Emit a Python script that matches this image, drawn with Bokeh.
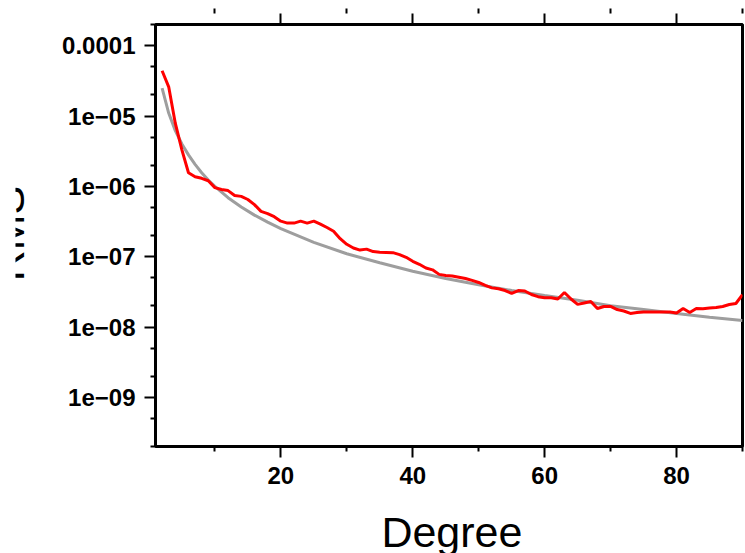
import math
from bokeh.plotting import figure
from bokeh.layouts import row, column
from bokeh.models import Range1d, FixedTicker, LinearAxis, Label
from bokeh.embed import file_html
from bokeh.resources import INLINE

# ---------------- data ----------------
red_degree = list(range(2, 91))
red_rms = [
    4.4e-5, 2.6e-5, 7.9e-6, 3.3e-6, 1.56e-6, 1.37e-6, 1.30e-6, 1.20e-6, 9.6e-7,          # 2-10
    9.0e-7, 8.7e-7, 7.4e-7, 7.2e-7, 6.5e-7, 5.5e-7, 4.4e-7, 4.1e-7, 3.7e-7, 3.2e-7,     # 11-20
    3.0e-7, 3.0e-7, 3.2e-7, 3.0e-7, 3.2e-7, 2.9e-7, 2.6e-7, 2.3e-7, 1.8e-7, 1.5e-7,     # 21-30
    1.33e-7, 1.24e-7, 1.28e-7, 1.18e-7, 1.16e-7, 1.15e-7, 1.14e-7, 1.07e-7, 9.8e-8, 8.6e-8,  # 31-40
    7.8e-8, 6.9e-8, 6.5e-8, 5.6e-8, 5.4e-8, 5.3e-8, 5.1e-8, 4.9e-8, 4.6e-8, 4.3e-8,     # 41-50
    3.9e-8, 3.6e-8, 3.5e-8, 3.3e-8, 3.0e-8, 3.3e-8, 3.25e-8, 2.9e-8, 2.7e-8, 2.6e-8,    # 51-60
    2.6e-8, 2.5e-8, 3.1e-8, 2.5e-8, 2.1e-8, 2.2e-8, 2.3e-8, 1.83e-8, 1.96e-8, 1.96e-8,  # 61-70
    1.77e-8, 1.69e-8, 1.56e-8, 1.61e-8, 1.63e-8, 1.63e-8, 1.63e-8, 1.63e-8, 1.63e-8, 1.58e-8,  # 71-80
    1.83e-8, 1.61e-8, 1.83e-8, 1.82e-8, 1.86e-8, 1.89e-8, 1.96e-8, 2.09e-8, 2.16e-8, 2.89e-8,  # 81-90
]

gray_degree = [2, 3, 4, 5, 6, 7, 8, 9, 10, 12, 14, 16, 18, 20, 25, 30, 35, 40, 45,
               50, 55, 60, 65, 70, 75, 80, 85, 90]
gray_rms = [2.5e-5, 1.1e-5, 6.2e-6, 4.0e-6, 2.8e-6, 2.05e-6, 1.56e-6, 1.23e-6, 1.0e-6,
            6.9e-7, 5.1e-7, 3.9e-7, 3.1e-7, 2.5e-7, 1.6e-7, 1.1e-7, 8.2e-8, 6.2e-8,
            4.9e-8, 4.0e-8, 3.3e-8, 2.8e-8, 2.4e-8, 2.0e-8, 1.78e-8, 1.56e-8, 1.38e-8, 1.24e-8]

x_major_ticks = [20, 40, 60, 80]
x_minor_ticks = [10, 30, 50, 70, 90]
y_major_ticks = [1e-4, 1e-5, 1e-6, 1e-7, 1e-8, 1e-9]
y_major_labels = ["0.0001", "1e\u221205", "1e\u221206", "1e\u221207", "1e\u221208", "1e\u221209"]
y_minor_ticks = [2e-10, 5e-10, 2e-9, 5e-9, 2e-8, 5e-8, 2e-7, 5e-7, 2e-6, 5e-6,
                 2e-5, 5e-5, 2e-4]
x_label = "Degree"
y_label = "RMS"

FONT = "Liberation Sans"


def strip(width, height, margin):
    f = figure(width=width, height=height, output_backend="svg", toolbar_location=None,
               x_range=Range1d(0, width), y_range=Range1d(0, height),
               x_axis_location=None, y_axis_location=None, min_border=0, margin=margin)
    f.xgrid.visible = False
    f.ygrid.visible = False
    f.outline_line_color = None
    return f


# ---------------- narrow strip holding the (cropped) y title ----------------
lab = strip(25, 545, (8, 0, 0, 15))
lab.add_layout(Label(x=-6.5, y=320, text=y_label, angle=math.pi / 2,
                     text_align="center", text_baseline="middle",
                     text_font=FONT, text_font_size="43px", text_color="black"))

# ---------------- main figure ----------------
p = figure(width=705, height=490, output_backend="svg", toolbar_location=None,
           x_range=Range1d(1, 90), y_range=Range1d(2e-10, 2e-4), y_axis_type="log",
           min_border_left=115, min_border_right=3, min_border_top=12,
           min_border_bottom=52, margin=(8, 0, 0, 0))
p.xgrid.visible = False
p.ygrid.visible = False
p.outline_line_color = "black"
p.outline_line_width = 3
p.outline_line_alpha = 1.0

p.line(gray_degree, gray_rms, line_color="#9e9e9e", line_width=3)
p.line(red_degree, red_rms, line_color="#ff0000", line_width=3)

p.xaxis.ticker = FixedTicker(ticks=x_major_ticks, minor_ticks=x_minor_ticks)
p.yaxis.ticker = FixedTicker(ticks=y_major_ticks, minor_ticks=y_minor_ticks)
p.yaxis.major_label_overrides = dict(zip(y_major_ticks, y_major_labels))

for ax in p.xaxis + p.yaxis:
    ax.axis_line_color = None
    ax.major_tick_out = 11
    ax.major_tick_in = 0
    ax.minor_tick_out = 5
    ax.minor_tick_in = 0
    ax.major_tick_line_width = 2
    ax.minor_tick_line_width = 2
    ax.major_tick_line_color = "black"
    ax.minor_tick_line_color = "black"
    ax.major_label_text_font = FONT
    ax.major_label_text_font_style = "bold"
    ax.major_label_text_font_size = "24px"
    ax.major_label_text_color = "black"
    ax.major_label_standoff = 9

# top frame ticks only (no labels): long ticks at majors, short at minors
for ticks, length in ((x_major_ticks, 11), (x_minor_ticks, 5)):
    top = LinearAxis(ticker=FixedTicker(ticks=[], minor_ticks=ticks),
                     axis_line_color=None, major_tick_out=0, major_tick_in=0,
                     minor_tick_out=length, minor_tick_in=0, minor_tick_line_width=2,
                     minor_tick_line_color="black", major_label_standoff=0)
    p.add_layout(top, "above")

# ---------------- bottom strip holding the (cropped) x title ----------------
deg = strip(705, 55, (0, 0, 0, 0))
deg.add_layout(Label(x=356, y=22, text=x_label, text_align="center",
                     text_baseline="middle", text_font=FONT,
                     text_font_size="43px", text_color="black"))

open("out.html", "w").write(file_html(row(lab, column(p, deg)), INLINE))
